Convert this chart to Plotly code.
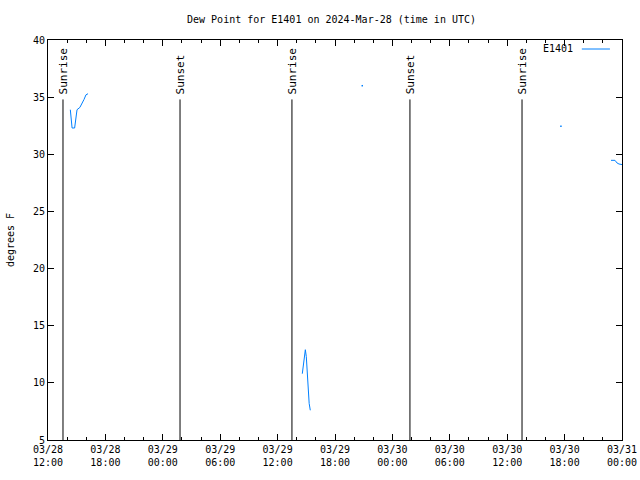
import plotly.graph_objects as go

# ---- data ----
dew_times = [
    "2024-03-28 14:20", "2024-03-28 14:27", "2024-03-28 14:31", "2024-03-28 14:47",
    "2024-03-28 14:56", "2024-03-28 15:02", "2024-03-28 15:20", "2024-03-28 15:33",
    "2024-03-28 15:46", "2024-03-28 15:58", "2024-03-28 16:11",
    None,
    "2024-03-29 14:35", "2024-03-29 14:41", "2024-03-29 14:48", "2024-03-29 14:54",
    "2024-03-29 15:00", "2024-03-29 15:06", "2024-03-29 15:12", "2024-03-29 15:18",
    "2024-03-29 15:25",
    None,
    "2024-03-30 22:51", "2024-03-30 23:16", "2024-03-30 23:29", "2024-03-30 23:41",
    "2024-03-31 00:00",
]
dew_values = [
    33.9, 32.9, 32.3, 32.3,
    33.3, 33.9, 34.1, 34.4,
    34.8, 35.2, 35.3,
    None,
    10.8, 11.6, 12.4, 12.9,
    12.3, 10.8, 9.5, 8.2,
    7.6,
    None,
    29.47, 29.47, 29.24, 29.15,
    29.1,
]
single_times = ["2024-03-29 20:51", "2024-03-30 17:37"]
single_values = [36.0, 32.45]

sun_times = ["2024-03-28 13:34", "2024-03-29 01:48", "2024-03-29 13:30",
             "2024-03-30 01:50", "2024-03-30 13:33"]
sun_labels = ["Sunrise", "Sunset", "Sunrise", "Sunset", "Sunrise"]
sun_top = 34.8

x_tickvals = ["2024-03-28 12:00", "2024-03-28 18:00", "2024-03-29 00:00",
              "2024-03-29 06:00", "2024-03-29 12:00", "2024-03-29 18:00",
              "2024-03-30 00:00", "2024-03-30 06:00", "2024-03-30 12:00",
              "2024-03-30 18:00", "2024-03-31 00:00"]
x_ticktext = ["03/28<br>12:00", "03/28<br>18:00", "03/29<br>00:00",
              "03/29<br>06:00", "03/29<br>12:00", "03/29<br>18:00",
              "03/30<br>00:00", "03/30<br>06:00", "03/30<br>12:00",
              "03/30<br>18:00", "03/31<br>00:00"]
y_tickvals = [5, 10, 15, 20, 25, 30, 35, 40]

series_name = "E1401"
line_color = "#0080ff"
mono = "DejaVu Sans Mono"

fig = go.Figure()

# sunrise / sunset vertical lines
sx, sy = [], []
for t in sun_times:
    sx += [t, t, None]
    sy += [5, sun_top, None]
fig.add_trace(go.Scatter(x=sx, y=sy, mode="lines", line=dict(color="black", width=1),
                         showlegend=False, hoverinfo="skip"))

fig.add_trace(go.Scatter(x=dew_times, y=dew_values, mode="lines", name=series_name,
                         line=dict(color=line_color, width=1), connectgaps=False,
                         showlegend=False))
fig.add_trace(go.Scatter(x=single_times, y=single_values, mode="markers",
                         marker=dict(color=line_color, size=1.5, symbol="square"),
                         showlegend=False))

for t, lab in zip(sun_times, sun_labels):
    fig.add_annotation(x=t, y=sun_top, xref="x", yref="y", text=lab, textangle=-90,
                       showarrow=False, xanchor="center", yanchor="bottom", yshift=3,
                       font=dict(family=mono, size=11, color="black"))

# legend drawn gnuplot-style
fig.add_annotation(x=0.918, y=0.9775, xref="paper", yref="paper", text=series_name,
                   showarrow=False, xanchor="right", yanchor="middle",
                   font=dict(family=mono, size=10, color="black"))
fig.add_shape(type="line", xref="paper", yref="paper", x0=0.930, x1=0.979,
              y0=0.9775, y1=0.9775, line=dict(color=line_color, width=1))

fig.update_layout(
    width=640, height=480,
    margin=dict(l=48, r=18, t=40, b=40, autoexpand=False),
    paper_bgcolor="white", plot_bgcolor="white",
    title=dict(text="Dew Point for E1401 on 2024-Mar-28 (time in UTC)",
               x=0.518, xanchor="center", y=0.96, yanchor="middle",
               font=dict(family=mono, size=10, color="black")),
    font=dict(family=mono, size=10, color="black"),
    showlegend=False,
)
fig.update_xaxes(
    type="date", range=["2024-03-28 12:00", "2024-03-31 00:00"],
    tickvals=x_tickvals, ticktext=x_ticktext, ticks="inside", ticklen=6,
    tickcolor="black", tickfont=dict(family=mono, size=10), automargin=False,
    minor=dict(dtick=2 * 3600 * 1000, ticks="inside", ticklen=3, tickcolor="black",
               tick0="2024-03-28 12:00"),
    showline=True, linecolor="black", linewidth=1, mirror="ticks",
    showgrid=False, zeroline=False,
)
fig.update_yaxes(
    range=[5, 40], tickvals=y_tickvals, ticks="inside", ticklen=6, tickcolor="black",
    tickfont=dict(family=mono, size=10), automargin=False,
    showline=True, linecolor="black", linewidth=1, mirror="ticks",
    showgrid=False, zeroline=False,
    title=dict(text="degrees F", font=dict(family=mono, size=10), standoff=16),
)

fig.write_html("out.html")
